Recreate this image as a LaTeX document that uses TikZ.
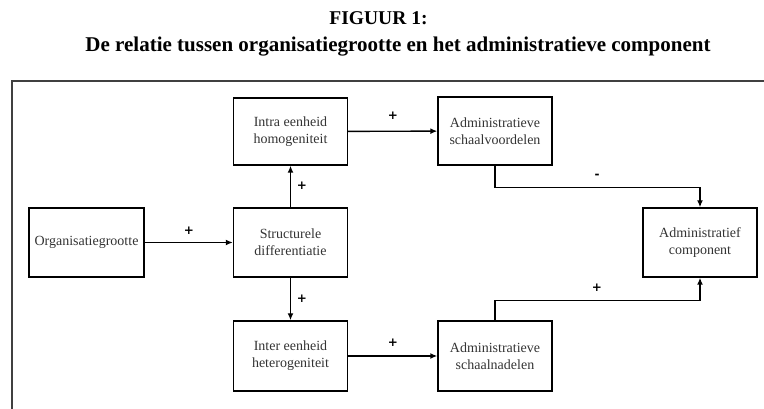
\documentclass[tikz,border=0pt]{standalone}
\usepackage{fontspec}
\setmainfont{Liberation Serif}
\newfontfamily\signfont{DejaVu Sans}
\usetikzlibrary{arrows.meta}
\tikzset{
  box/.style={draw=black, line width=1.4pt, minimum width=114pt, minimum height=69pt,
    align=center, inner sep=2pt, text=black!80, font=\fontsize{14}{17}\selectfont},
  conn/.style={line width=1.4pt, -{Latex[length=7pt,width=6pt]}},
  sign/.style={font=\signfont\fontsize{12}{12}\selectfont\bfseries, inner sep=0pt},
  frame/.style={draw=black!75, line width=1.3pt}
}
\begin{document}
\begin{tikzpicture}[x=1pt,y=1pt]
\useasboundingbox (0,0) rectangle (764,409);
% title
\node[anchor=base, font=\fontsize{19.5}{22}\selectfont\bfseries] (t1) at (378.5,384) {FIGUUR 1:};
\node[anchor=base, font=\fontsize{21}{24}\selectfont\bfseries] (t2) at (398,357.3) {De relatie tussen organisatiegrootte en het administratieve component};
% frame
\coordinate (fa) at (12,0);
\coordinate (fb) at (12,328);
\coordinate (fc) at (764,328);
\draw[frame] (fa) -- (fb) -- (fc);
% boxes
\node[box, minimum width=115pt] (org) at (86.5,166.5) {Organisatiegrootte};
\node[box] (struct) at (290.5,166.5) {Structurele\\differentiatie};
\node[box, minimum height=67pt] (intra) at (290.5,277.5) {Intra eenheid\\homogeniteit};
\node[box, minimum height=70pt] (inter) at (290.5,53) {Inter eenheid\\heterogeniteit};
\node[box, minimum height=68pt] (voor) at (495,278) {Administratieve\\schaalvoordelen};
\node[box, minimum height=70pt] (nadel) at (495,53) {Administratieve\\schaalnadelen};
\node[box] (comp) at (700,166.5) {Administratief\\component};
% connectors
\draw[conn] (org) -- (struct);
\draw[conn] (struct) -- (intra);
\draw[conn] (struct) -- (inter);
\draw[conn] (intra) -- (voor);
\draw[conn] (inter) -- (nadel);
\draw[conn] (voor.south) -- ++(0,-22) -| (comp.north);
\draw[conn] (nadel.north) -- ++(0,20) -| (comp.south);
% signs
\node[sign] (s1) at (189,178) {+};
\node[sign] (s2) at (302,223) {+};
\node[sign] (s3) at (302,110) {+};
\node[sign] (s4) at (393,293) {+};
\node[sign] (s5) at (393,66) {+};
\node[sign] (s6) at (597,233) {-};
\node[sign] (s7) at (597,121) {+};
\end{tikzpicture}
\end{document}
